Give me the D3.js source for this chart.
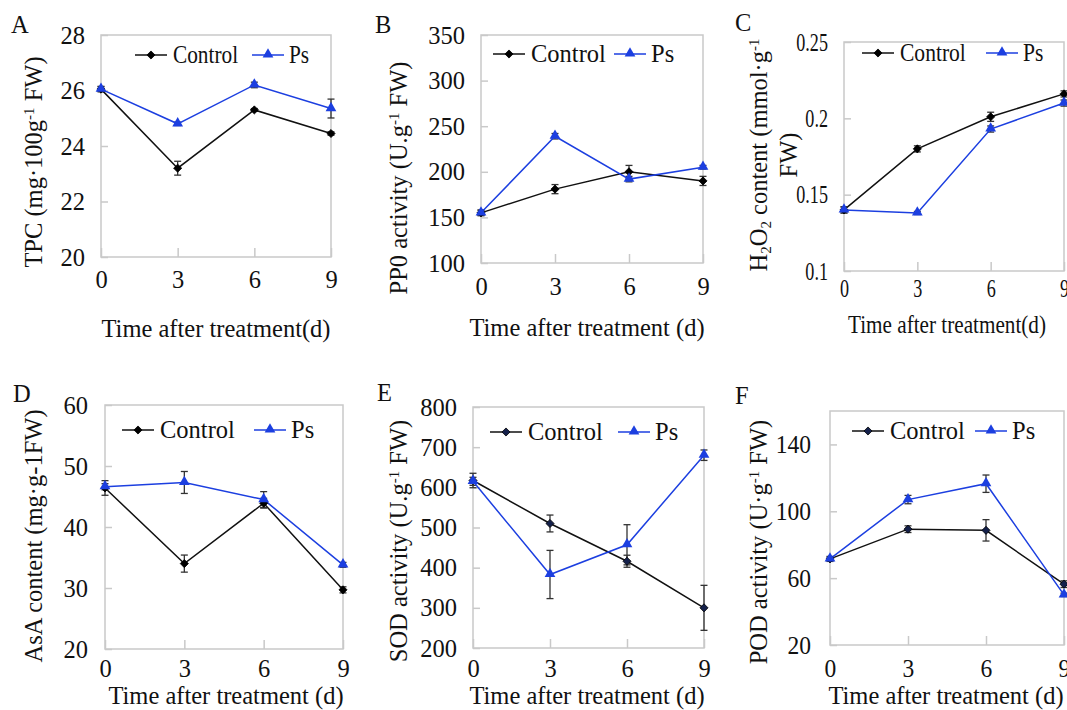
<!DOCTYPE html>
<html>
<head>
<meta charset="utf-8">
<title>Time course panels</title>
<script src="https://cdn.jsdelivr.net/npm/d3@7"></script>
</head>
<body style="margin:0">
<script>
// ---- data ----
var days = [0, 3, 6, 9];
var seriesNames = ["Control", "Ps"];

// A  total phenolic content
var tpcControl = [26.05, 23.2, 25.3, 24.45];
var tpcControlErr = [0.1, 0.25, 0.05, 0.06];
var tpcPs = [26.05, 24.8, 26.2, 25.35];
var tpcPsErr = [0.08, 0.06, 0.1, 0.34];
var tpcTicks = [20, 22, 24, 26, 28];

// B  PPO activity
var ppoControl = [155, 181, 200, 190];
var ppoControlErr = [3, 5, 7, 5];
var ppoPs = [155, 239, 192, 205];
var ppoPsErr = [3, 3, 3, 2];
var ppoTicks = [100, 150, 200, 250, 300, 350];

// C  H2O2 content
var h2o2Control = [0.14, 0.18, 0.201, 0.216];
var h2o2ControlErr = [0.002, 0.002, 0.003, 0.002];
var h2o2Ps = [0.14, 0.138, 0.193, 0.21];
var h2o2PsErr = [0.002, 0.001, 0.002, 0.002];
var h2o2Ticks = [0.1, 0.15, 0.2, 0.25];

// D  AsA content
var asaControl = [46.4, 34, 43.9, 29.7];
var asaControlErr = [1.2, 1.4, 0.8, 0.5];
var asaPs = [46.6, 47.3, 44.5, 33.8];
var asaPsErr = [0.5, 1.8, 1.3, 0.4];
var asaTicks = [20, 30, 40, 50, 60];

// E  SOD activity
var sodControl = [617, 510, 416, 300];
var sodControlErr = [18, 21, 15, 56];
var sodPs = [615, 383, 457, 680];
var sodPsErr = [10, 60, 50, 13];
var sodTicks = [200, 300, 400, 500, 600, 700, 800];

// F  POD activity
var podControl = [71.5, 89.3, 88.6, 56.4];
var podControlErr = [1.5, 2, 6.4, 2];
var podPs = [71.5, 107, 116.5, 50];
var podPsErr = [1, 2.5, 5.2, 1];
var podTicks = [20, 60, 100, 140];

// ---- layout ----
var W = 1067, H = 710;
var FONT = "Liberation Serif";
var FS = 24.5;
var black = "#111", blue = "#1c3fe0", frame = "#c9c9c9";

// sx: horizontal squeeze of text (the source panels were resized unevenly)
var panels = [
  { letter: "A", lx: 11, ly: 33, box: [101, 331, 35, 257], ydom: [20, 28], ticks: tpcTicks,
    c: tpcControl, ce: tpcControlErr, p: tpcPs, pe: tpcPsErr, gap: 16,
    tickSx: 1, titleSx: 1, legSx: 0.87,
    ytitle: [["TPC (mg·100g"], ["-1", "sup"], [" FW)"]], ytx: 33, yty: 162,
    xtitle: "Time after treatment(d)", xtx: 216, xty: 337, tly: 288,
    legC: 135, legP: 252, legY: 55 },
  { letter: "B", lx: 375, ly: 33, box: [481, 703, 35, 263], ydom: [100, 350], ticks: ppoTicks,
    c: ppoControl, ce: ppoControlErr, p: ppoPs, pe: ppoPsErr, gap: 16,
    tickSx: 1, titleSx: 1, legSx: 1,
    ytitle: [["PP0 activity (U.g"], ["-1", "sup"], [" FW)"]], ytx: 398, yty: 178,
    xtitle: "Time after treatment (d)", xtx: 587, xty: 336, tly: 295,
    legC: 493, legP: 614, legY: 54 },
  { letter: "C", lx: 735, ly: 31, box: [844, 1064, 42, 271], ydom: [0.1, 0.25], ticks: h2o2Ticks,
    c: h2o2Control, ce: h2o2ControlErr, p: h2o2Ps, pe: h2o2PsErr, gap: 16,
    tickSx: 0.74, titleSx: 0.865, legSx: 0.88,
    ytitle: [["H"], ["2", "sub"], ["O"], ["2", "sub"], [" content (mmol·g"], ["-1", "sup"]],
    ytitle2: "FW)", ytx: 758, ytx2: 788, yty: 155,
    xtitle: "Time after treatment(d)", xtx: 947, xty: 333, tly: 297,
    legC: 862, legP: 986, legY: 53 },
  { letter: "D", lx: 13, ly: 402, box: [105, 343, 405, 649], ydom: [20, 60], ticks: asaTicks,
    c: asaControl, ce: asaControlErr, p: asaPs, pe: asaPsErr, gap: 17,
    tickSx: 1, titleSx: 1, legSx: 1,
    ytitle: [["AsA content (mg·g-1FW)"]], ytx: 33, yty: 536,
    xtitle: "Time after treatment (d)", xtx: 226, xty: 704, tly: 677,
    legC: 122, legP: 254, legY: 430 },
  { letter: "E", lx: 377, ly: 401, box: [473, 704, 407, 648], ydom: [200, 800], ticks: sodTicks,
    c: sodControl, ce: sodControlErr, p: sodPs, pe: sodPsErr, gap: 16,
    tickSx: 1, titleSx: 1, legSx: 1,
    ytitle: [["SOD activity (U.g"], ["-1", "sup"], [" FW)"]], ytx: 398, yty: 541,
    xtitle: "Time after treatment (d)", xtx: 587, xty: 704, tly: 677,
    legC: 490, legP: 618, legY: 432 },
  { letter: "F", lx: 735, ly: 404, box: [830, 1064, 411, 645], ydom: [20, 160], ticks: podTicks,
    c: podControl, ce: podControlErr, p: podPs, pe: podPsErr, gap: 19,
    tickSx: 0.96, titleSx: 1, legSx: 1,
    ytitle: [["POD activity (U·g"], ["-1", "sup"], [" FW)"]], ytx: 758, yty: 542,
    xtitle: "Time after treatment (d)", xtx: 946, xty: 704, tly: 677,
    legC: 852, legP: 975, legY: 431 }
];

var svg = d3.select("body").append("svg")
  .attr("width", W).attr("height", H)
  .style("font-family", FONT);

function diamond(g, x, y, fill) {
  g.append("path")
    .attr("d", d3.symbol().type(d3.symbolDiamond2).size(42)())
    .attr("transform", "translate(" + x + "," + y + ")")
    .attr("fill", fill).attr("stroke", "#000").attr("stroke-width", 0.8);
}
function triangle(g, x, y) {
  g.append("path")
    .attr("d", d3.symbol().type(d3.symbolTriangle).size(50)())
    .attr("transform", "translate(" + x + "," + (y - 0.5) + ")")
    .attr("fill", blue);
}

// rich text with sub/superscripts
function richText(t, parts) {
  parts.forEach(function(p) {
    var ts = t.append("tspan").text(p[0]);
    if (p[1] === "sup") {
      ts.style("font-size", "15px").attr("baseline-shift", "55%");
    } else if (p[1] === "sub") {
      ts.style("font-size", "15px").attr("baseline-shift", "-25%");
    }
  });
}

// horizontal text, optionally squeezed around its anchor point
function addText(g, x, y, str, sx, anchor) {
  return g.append("text")
    .attr("transform", "translate(" + x + "," + y + ") scale(" + (sx || 1) + ",1)")
    .attr("text-anchor", anchor || "start")
    .style("font-family", FONT).style("font-size", FS + "px").style("fill", "#111")
    .text(str);
}

panels.forEach(function(pn) {
  var x0 = pn.box[0], x1 = pn.box[1], y0 = pn.box[2], y1 = pn.box[3];
  var x = d3.scaleLinear().domain([0, 9]).range([x0, x1]);
  var y = d3.scaleLinear().domain(pn.ydom).range([y1, y0]);
  var g = svg.append("g");

  // frame
  g.append("rect").attr("x", x0).attr("y", y0)
    .attr("width", x1 - x0).attr("height", y1 - y0)
    .attr("fill", "none").attr("stroke", frame).attr("stroke-width", 1.5);

  // y axis (inward ticks)
  var ya = g.append("g").attr("transform", "translate(" + x0 + ",0)")
    .call(d3.axisLeft(y).tickValues(pn.ticks).tickSize(-7).tickPadding(0)
      .tickFormat(function(d) { return String(+d.toFixed(2)); }));
  ya.attr("font-family", null).attr("font-size", null);
  ya.select(".domain").remove();
  ya.selectAll(".tick line").attr("stroke", frame).attr("stroke-width", 1.5);
  ya.selectAll(".tick text")
    .attr("x", null).attr("dy", "0.33em")
    .attr("transform", "translate(" + (-pn.gap) + ",0) scale(" + pn.tickSx + ",1)")
    .style("font-family", FONT).style("font-size", FS + "px").attr("fill", "#111");

  // x axis (inward ticks)
  var xa = g.append("g").attr("transform", "translate(0," + y1 + ")")
    .call(d3.axisBottom(x).tickValues(days).tickSize(-9).tickPadding(0));
  xa.attr("font-family", null).attr("font-size", null);
  xa.select(".domain").remove();
  xa.selectAll(".tick line").attr("stroke", frame).attr("stroke-width", 1.5);
  xa.selectAll(".tick text")
    .attr("y", null).attr("dy", null)
    .attr("transform", "translate(0," + (pn.tly - y1) + ") scale(" + pn.tickSx + ",1)")
    .style("font-family", FONT).style("font-size", FS + "px").attr("fill", "#111");

  // series
  var line = d3.line().x(function(d, i) { return x(days[i]); }).y(function(d) { return y(d); });
  [[pn.c, pn.ce, black], [pn.p, pn.pe, blue]].forEach(function(s) {
    s[0].forEach(function(v, i) {
      var cx = x(days[i]), ya_ = y(v + s[1][i]), yb = y(v - s[1][i]);
      g.append("line").attr("x1", cx).attr("x2", cx).attr("y1", ya_).attr("y2", yb)
        .attr("stroke", "#333").attr("stroke-width", 1.3);
      [ya_, yb].forEach(function(yy) {
        g.append("line").attr("x1", cx - 3.5).attr("x2", cx + 3.5).attr("y1", yy).attr("y2", yy)
          .attr("stroke", "#333").attr("stroke-width", 1.3);
      });
    });
    g.append("path").datum(s[0]).attr("d", line)
      .attr("fill", "none").attr("stroke", s[2]).attr("stroke-width", 1.5);
  });
  var dfill = (pn.letter === "E" || pn.letter === "F") ? "#14204a" : "#000";
  pn.c.forEach(function(v, i) { diamond(g, x(days[i]), y(v), dfill); });
  pn.p.forEach(function(v, i) { triangle(g, x(days[i]), y(v)); });

  // legend
  var lg = g.append("g");
  lg.append("line").attr("x1", pn.legC).attr("x2", pn.legC + 32).attr("y1", pn.legY).attr("y2", pn.legY)
    .attr("stroke", black).attr("stroke-width", 1.5);
  diamond(lg, pn.legC + 16, pn.legY, dfill);
  addText(lg, pn.legC + 38, pn.legY + 8, seriesNames[0], pn.legSx);
  lg.append("line").attr("x1", pn.legP).attr("x2", pn.legP + 32).attr("y1", pn.legY).attr("y2", pn.legY)
    .attr("stroke", blue).attr("stroke-width", 1.5);
  triangle(lg, pn.legP + 16, pn.legY);
  addText(lg, pn.legP + 37, pn.legY + 8, seriesNames[1], pn.legSx);

  // panel letter
  addText(g, pn.lx, pn.ly, pn.letter, 1);

  // axis titles
  var yt = g.append("text").attr("text-anchor", "middle")
    .attr("transform", "translate(" + pn.ytx + "," + pn.yty + ") rotate(-90)")
    .attr("dy", "0.35em")
    .style("font-family", FONT).style("font-size", FS + "px").style("fill", "#111");
  richText(yt, pn.ytitle);
  if (pn.ytitle2) {
    g.append("text").attr("text-anchor", "middle")
      .attr("transform", "translate(" + pn.ytx2 + "," + pn.yty + ") rotate(-90)")
      .attr("dy", "0.35em")
      .style("font-family", FONT).style("font-size", FS + "px").style("fill", "#111")
      .text(pn.ytitle2);
  }
  addText(g, pn.xtx, pn.xty, pn.xtitle, pn.titleSx, "middle");
});
</script>
</body>
</html>
